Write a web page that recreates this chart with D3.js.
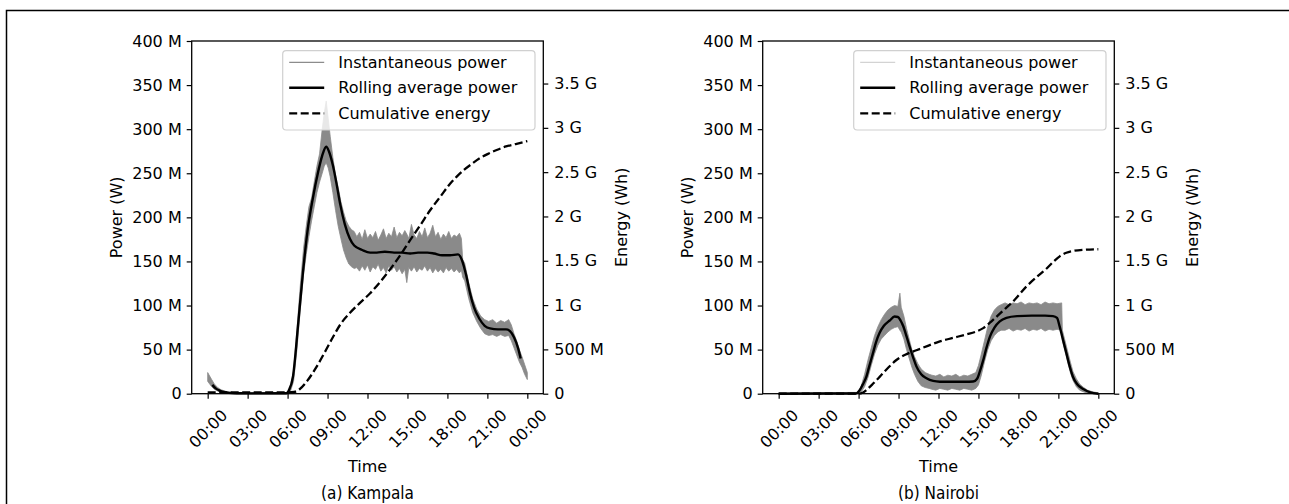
<!DOCTYPE html>
<html>
<head>
<meta charset="utf-8">
<script src="https://cdn.jsdelivr.net/npm/d3@7"></script>
<style>
  html, body { margin: 0; padding: 0; background: #fff; overflow: hidden; }
  svg { display: block; }
  svg text { font-family: 'DejaVu Sans', sans-serif; }
  .caption { font-family: 'Liberation Sans Narrow', 'DejaVu Sans Condensed', sans-serif !important; }
</style>
</head>
<body>
<svg id="chart"></svg>
<script>
let width = 1289
let height = 504

// tick values and labels
let hourTicks = [0, 3, 6, 9, 12, 15, 18, 21, 24]
let hourLabels = ['00:00', '03:00', '06:00', '09:00', '12:00', '15:00', '18:00', '21:00', '00:00']
let powerTicks = [0, 50, 100, 150, 200, 250, 300, 350, 400]
let powerLabels = ['0', '50 M', '100 M', '150 M', '200 M', '250 M', '300 M', '350 M', '400 M']
let energyTicks = [0, 0.5, 1, 1.5, 2, 2.5, 3, 3.5]
let energyLabels = ['0', '500 M', '1 G', '1.5 G', '2 G', '2.5 G', '3 G', '3.5 G']
let legendLabels = ['Instantaneous power', 'Rolling average power', 'Cumulative energy']

// Kampala: [hour, power MW]
let kampalaRolling = [[0.35,10],[0.6,6],[0.9,3.5],[1.2,2],[1.6,1],[2.2,0.5],[3,0.4],[5.9,0.5],[6.1,4],[6.4,19],[6.8,80],[7.15,137],
  [7.5,185],[7.9,222],[8.3,252],[8.6,270],[8.9,280],[9.1,275],[9.4,259],[9.7,236],[9.95,215],[10.3,192],[10.67,176],[11.0,168],
  [11.6,163],[12.2,160],[12.7,160],[13.3,161],[14.0,160],[14.6,160],[15.2,159],[15.8,160],[16.5,160],[17.0,159],[17.6,157],
  [18.2,157],[18.8,158],[19.08,152],[19.4,135],[19.7,114],[20.0,98],[20.4,85],[20.8,77],[21.2,74],[21.8,73],[22.4,73],
  [22.7,71],[23.0,64],[23.3,52],[23.5,40]]
// Kampala instantaneous envelope: [hour, low MW, high MW]
let kampalaBand = [[0.0,14,24],[0.15,11,20],[0.3,8,16],[0.5,5,11],[0.75,3,7],[1.0,1.5,4.5],[1.4,0.5,2.5],[2.0,0,1.2],[6.0,0,1.2],
  [6.2,2,7],[6.45,14,26],[6.7,50,72],[6.95,95,122],[7.2,135,165],[7.4,158,190],[7.6,178,212],[7.8,196,222],[8.0,212,240],
  [8.2,228,258],[8.4,240,272],[8.6,250,300],[8.75,258,318],[8.9,262,332],[9.05,256,312],[9.2,246,292],[9.4,228,268],
  [9.6,208,248],[9.8,190,234],[10.0,176,218],[10.2,163,206],[10.4,154,196],[10.6,147,190],[10.8,144,186],[11.0,142,184],
  [11.2,143,178],[11.4,139,183],[11.6,145,175],[11.8,140,186],[12.0,146,176],[12.2,138,181],[12.4,144,177],[12.6,141,184],
  [12.8,147,174],[13.0,139,180],[13.2,143,187],[13.4,137,176],[13.6,145,182],[13.8,140,178],[14.0,144,189],[14.2,138,177],
  [14.4,142,183],[14.6,136,179],[14.8,141,185],[14.95,126,181],[15.1,143,176],[15.3,139,192],[15.5,144,180],[15.7,138,176],
  [15.9,142,184],[16.1,140,178],[16.3,145,188],[16.5,139,177],[16.7,143,182],[16.9,137,191],[17.1,142,178],[17.3,138,183],
  [17.5,141,175],[17.7,137,181],[17.9,143,177],[18.1,139,184],[18.3,142,176],[18.5,138,180],[18.7,141,178],[18.9,137,182],
  [19.05,140,176],[19.15,132,152],[19.3,128,148],[19.6,108,126],[19.9,92,108],[20.2,82,96],[20.5,74,88],[20.8,68,84],
  [21.1,66,82],[21.4,67,84],[21.7,65,80],[22.0,67,83],[22.3,65,81],[22.6,66,84],[22.8,60,78],[23.0,52,68],[23.2,44,60],
  [23.4,36,50],[23.6,30,42],[23.8,22,33],[24.0,16,24]]
// Kampala cumulative energy: [hour, GWh]
let kampalaEnergy = [[0,0.015],[6.0,0.015],[6.5,0.02],[6.9,0.05],[7.5,0.15],[8.16,0.30],[8.8,0.47],[9.41,0.64],[10.0,0.79],
  [10.67,0.91],[11.4,1.02],[12.18,1.13],[13.0,1.27],[13.68,1.40],[14.4,1.55],[15.19,1.73],[16.0,1.91],[16.7,2.07],[17.5,2.23],
  [18.2,2.37],[18.7,2.45],[19.2,2.52],[19.8,2.59],[20.46,2.66],[21.1,2.71],[21.7,2.75],[22.4,2.79],[23.2,2.82],[24.0,2.85]]

// Nairobi
let nairobiRolling = [[0,0],[5.8,0.3],[6.08,4],[6.3,10],[6.58,19],[6.8,31],[7.08,46],[7.3,58],[7.58,69],[7.9,77],[8.34,83],
  [8.7,87.5],[8.95,87],[9.15,83],[9.34,77],[9.6,65],[9.84,53],[10.1,41],[10.34,31],[10.7,22],[11.1,17.5],[11.6,14.5],
  [12.1,13.6],[13,13.5],[14,13.5],[14.6,13.8],[14.9,17],[15.1,25],[15.36,38],[15.6,52],[15.87,65],[16.2,75],[16.6,82],
  [17.1,86],[17.9,88],[19,88.5],[20,88.5],[20.6,88],[20.9,86],[21.1,76],[21.35,61],[21.6,46],[21.85,31],[22.1,19],
  [22.4,11],[22.9,5],[23.4,1.5],[24,0]]
let nairobiBand = [[0,0,0.8],[6.0,0,1.5],[6.2,2,9],[6.45,8,22],[6.7,18,38],[6.95,32,52],[7.2,45,66],[7.45,55,76],[7.7,62,84],
  [7.95,66,90],[8.2,70,95],[8.45,73,98],[8.7,75,100],[8.95,76,99],[9.1,72,114],[9.2,70,98],[9.4,62,88],[9.6,50,74],
  [9.8,40,62],[10.0,30,50],[10.2,22,42],[10.45,14,34],[10.7,9,28],[11.0,7,24],[11.3,6,22],[11.5,5,21],[11.8,4,20],
  [12.1,6,22],[12.4,5,19],[12.7,4,21],[13.0,6,20],[13.3,5,22],[13.6,4,19],[13.9,6,21],[14.2,5,20],[14.5,4,22],
  [14.8,6,24],[15.0,10,32],[15.2,20,44],[15.45,36,60],[15.7,50,76],[15.95,60,88],[16.2,66,95],[16.45,70,99],[16.7,72,101],
  [17.0,72,103],[17.3,74,101],[17.6,71,103],[17.9,73,102],[18.2,72,104],[18.5,74,101],[18.8,71,103],[19.1,73,102],
  [19.4,72,103],[19.7,74,101],[20.0,71,104],[20.3,73,102],[20.6,72,103],[20.9,73,102],[21.25,72,103],[21.3,60,72],
  [21.5,48,60],[21.7,36,48],[21.9,24,36],[22.1,15,25],[22.35,8,17],[22.6,4,11],[22.9,2,7],[23.2,0.5,4],[23.6,0,2],[24,0,1]]
let nairobiEnergy = [[0,0],[6.0,0],[6.3,0.01],[6.58,0.04],[7.0,0.10],[7.58,0.19],[8.2,0.29],[8.84,0.38],[9.5,0.44],
  [10.34,0.49],[11.2,0.54],[12.1,0.59],[13.1,0.63],[14.1,0.67],[14.8,0.70],[15.36,0.74],[16.0,0.82],[16.87,0.94],
  [17.6,1.04],[18.6,1.21],[19.4,1.32],[20.1,1.41],[20.7,1.50],[21.1,1.55],[21.6,1.59],[22.1,1.61],[23,1.625],[24,1.63]]

let svg = d3.select('#chart')
svg.attr('width', width).attr('height', height)

// figure border (top and left edges visible)
svg.append('path')
   .attr('d', 'M6.5,504 L6.5,10.5 L1289,10.5')
   .attr('fill', 'none')
   .attr('stroke', '#000')
   .attr('stroke-width', 1.5)

let drawPanel = (left, rolling, band, energy, handleColor, caption) => {
    let plotLeft = left
    let plotRight = left + 351.6
    let plotTop = 41
    let plotBottom = 393.7

    let xScale = d3.scaleLinear().domain([-1.2, 25.2]).range([plotLeft, plotRight])
    let yScale = d3.scaleLinear().domain([0, 400]).range([plotBottom, plotTop])
    let eScale = d3.scaleLinear().domain([0, 3.98]).range([plotBottom, plotTop])

    let g = svg.append('g')

    // instantaneous power envelope
    g.append('path')
     .datum(band)
     .attr('d', d3.area()
        .x((d) => xScale(d[0]))
        .y0((d) => yScale(d[1]))
        .y1((d) => yScale(d[2])))
     .attr('fill', '#8a8a8a')
     .attr('stroke', '#8a8a8a')
     .attr('stroke-width', 0.8)

    // rolling average
    g.append('path')
     .datum(rolling)
     .attr('d', d3.line()
        .x((d) => xScale(d[0]))
        .y((d) => yScale(d[1]))
        .curve(d3.curveMonotoneX))
     .attr('fill', 'none')
     .attr('stroke', '#000')
     .attr('stroke-width', 2.4)

    // cumulative energy on twin axis
    g.append('path')
     .datum(energy)
     .attr('d', d3.line()
        .x((d) => xScale(d[0]))
        .y((d) => eScale(d[1]))
        .curve(d3.curveMonotoneX))
     .attr('fill', 'none')
     .attr('stroke', '#000')
     .attr('stroke-width', 2.3)
     .attr('stroke-dasharray', '8,3.5')

    // axes
    let xAxis = d3.axisBottom(xScale)
                  .tickValues(hourTicks)
                  .tickFormat((d, i) => hourLabels[i])
                  .tickSize(5)
                  .tickPadding(4)
    let xg = g.append('g')
              .attr('transform', 'translate(0, ' + plotBottom + ')')
              .call(xAxis)
    xg.selectAll('text')
      .attr('y', 0)
      .attr('dy', 0)
      .attr('text-anchor', 'middle')
      .attr('dominant-baseline', 'central')
      .attr('transform', (d) => 'translate(0, 35) rotate(-45)')

    let yAxis = d3.axisLeft(yScale)
                  .tickValues(powerTicks)
                  .tickFormat((d, i) => powerLabels[i])
                  .tickSize(5)
                  .tickPadding(5)
    g.append('g')
     .attr('transform', 'translate(' + plotLeft + ', 0)')
     .call(yAxis)

    let eAxis = d3.axisRight(eScale)
                  .tickValues(energyTicks)
                  .tickFormat((d, i) => energyLabels[i])
                  .tickSize(5)
                  .tickPadding(6)
    g.append('g')
     .attr('transform', 'translate(' + plotRight + ', 0)')
     .call(eAxis)

    g.selectAll('.domain').remove()
    g.selectAll('.tick line').attr('stroke', '#000').attr('stroke-width', 1.2)
    g.selectAll('.tick text')
     .attr('fill', '#000')
     .style('font-size', '16px')
     .style('font-family', "'DejaVu Sans', sans-serif")

    // spines
    g.append('rect')
     .attr('x', plotLeft)
     .attr('y', plotTop)
     .attr('width', plotRight - plotLeft)
     .attr('height', plotBottom - plotTop)
     .attr('fill', 'none')
     .attr('stroke', '#000')
     .attr('stroke-width', 1.3)

    // legend
    let lx = plotLeft + 91
    let ly = 50.7
    let legend = g.append('g')
    legend.append('rect')
          .attr('x', lx)
          .attr('y', ly)
          .attr('width', 252.3)
          .attr('height', 79.3)
          .attr('rx', 3.5)
          .attr('fill', '#fff')
          .attr('fill-opacity', 0.8)
          .attr('stroke', '#d0d0d0')
          .attr('stroke-width', 1.2)
    let rowY = [62.3, 87.8, 113.3]
    let handleStyles = [
        {color: handleColor, w: 1.2, dash: null},
        {color: '#000', w: 2.4, dash: null},
        {color: '#000', w: 2.3, dash: '8,3.5'}
    ]
    legendLabels.forEach((label, i) => {
        legend.append('line')
              .attr('x1', lx + 6.5)
              .attr('x2', lx + 41.5)
              .attr('y1', rowY[i])
              .attr('y2', rowY[i])
              .attr('stroke', handleStyles[i].color)
              .attr('stroke-width', handleStyles[i].w)
              .attr('stroke-dasharray', handleStyles[i].dash)
        legend.append('text')
              .attr('x', lx + 55.6)
              .attr('y', rowY[i])
              .attr('dominant-baseline', 'central')
              .style('font-size', '16px')
              .text(label)
    })

    // axis titles
    let cx = (plotLeft + plotRight) / 2
    g.append('text')
     .attr('x', cx)
     .attr('y', 466)
     .attr('text-anchor', 'middle')
     .attr('dominant-baseline', 'central')
     .style('font-size', '16px')
     .text('Time')
    g.append('text')
     .attr('transform', 'translate(' + (plotLeft - 75) + ', ' + ((plotTop + plotBottom) / 2) + ') rotate(-90)')
     .attr('text-anchor', 'middle')
     .attr('dominant-baseline', 'central')
     .style('font-size', '16px')
     .text('Power (W)')
    g.append('text')
     .attr('transform', 'translate(' + (plotRight + 78.5) + ', ' + ((plotTop + plotBottom) / 2) + ') rotate(-90)')
     .attr('text-anchor', 'middle')
     .attr('dominant-baseline', 'central')
     .style('font-size', '16px')
     .text('Energy (Wh)')

    g.append('text')
     .attr('class', 'caption')
     .attr('x', cx)
     .attr('y', 493)
     .attr('text-anchor', 'middle')
     .attr('dominant-baseline', 'central')
     .style('font-size', '17px')
     .text(caption)
}

drawPanel(191.7, kampalaRolling, kampalaBand, kampalaEnergy, '#8c8c8c', '(a) Kampala')
drawPanel(762.7, nairobiRolling, nairobiBand, nairobiEnergy, '#d3d3d3', '(b) Nairobi')
</script>
</body>
</html>
